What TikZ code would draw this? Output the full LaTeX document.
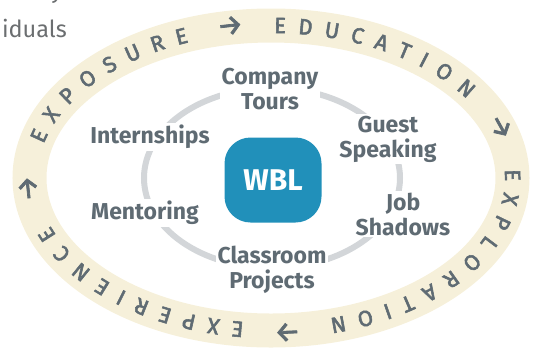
\documentclass[tikz,border=0pt]{standalone}
\usepackage{fontspec}
\setmainfont{Fira Sans}
\newfontfamily\ringfont[FakeBold=2.5]{Fira Sans}
\usetikzlibrary{positioning}
\usetikzlibrary{decorations.text}

\definecolor{bandbeige}{HTML}{F6F0DA}
\definecolor{labelgray}{HTML}{5F6B73}
\definecolor{ringgray}{HTML}{D3D6D9}
\definecolor{wblblue}{HTML}{2190BA}
\definecolor{bodygray}{HTML}{6B6E70}

% letter and arrow formats for the band
\newcommand{\bandletters}{\color{labelgray}\ringfont\fontsize{22}{24}\selectfont}
\newcommand{\bandarrow}{\color{labelgray}\ringfont\fontsize{29}{31}\selectfont}

\tikzset{
  activity/.style={fill=white, text=labelgray, align=center, inner sep=2pt,
    font=\bfseries\fontsize{23}{25}\selectfont},
  hub/.style={fill=wblblue, text=white, rounded corners=26pt,
    minimum width=97pt, minimum height=85pt,
    font=\bfseries\fontsize{30}{32}\selectfont},
  bodytext/.style={text=bodygray, inner sep=0pt, font=\fontsize{23.5}{28}\selectfont}
}

\begin{document}
\begin{tikzpicture}[x=1pt, y=1pt]
            % Frame of the picture
            \clip (-271,-171) rectangle (266,178);

            % Bits of the page text
            \node[bodytext, anchor=base east] (lineone) at (-208,180) {y};
            \node[bodytext, anchor=base east] (linetwo) at (-204,141) {iduals};

            % Draw the outer band
            \draw[bandbeige, line width=34pt] (0,0) ellipse [x radius=241.5, y radius=152.5];
            \path[decorate, decoration={text along path, text align=fit to path, raise=-7.5pt,
                text={|\bandletters|EXPOSURE |\bandarrow|→|\bandletters| EDUCATION |\bandarrow|→|\bandletters| EXPLORATION |\bandarrow|→|\bandletters| EXPERIENCE |\bandarrow|→}}]
              (166:241.5 and 152.5) arc [start angle=166, end angle=-181, x radius=241.5, y radius=152.5];

            % Draw the inner ring
            \draw[ringgray, line width=6pt] (1,0) ellipse [x radius=128, y radius=90];

            % Draw the labels on the ring
            \node[activity] (tours) at (-1,89) {Company\\Tours};
            \node[activity] (guest) at (117,39) {Guest\\Speaking};
            \node[activity] (shadows) at (132,-36) {Job\\Shadows};
            \node[activity] (projects) at (1,-92) {Classroom\\Projects};
            \node[activity] (mentoring) at (-126,-35) {Mentoring};
            \node[activity] (internships) at (-121,41) {Internships};

            % The centre
            \node[hub] (wbl) at (2,-2) {WBL};

        \end{tikzpicture}
\end{document}
